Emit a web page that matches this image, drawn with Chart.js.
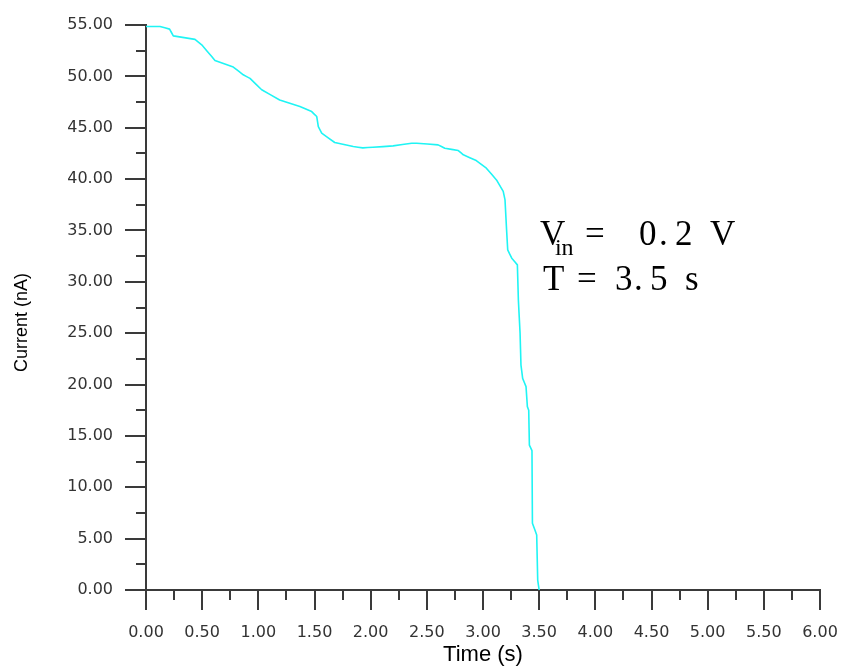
<!DOCTYPE html>
<html>
<head>
<meta charset="utf-8">
<title>Current vs Time</title>
<script src="https://cdn.jsdelivr.net/npm/chart.js@4.4.0/dist/chart.umd.min.js"></script>
<style>
    html, body { margin: 0; padding: 0; background: #fff; }
    #chart { display: block; }
</style>
</head>
<body>
<canvas id="chart" width="846" height="668"></canvas>
<script>
// time (s) and current (nA)
var timeS = [0, 0.125, 0.21, 0.243, 0.436, 0.496, 0.585, 0.614, 0.777, 0.866,
    0.926, 1.03, 1.19, 1.37, 1.475, 1.52, 1.534, 1.564, 1.68, 1.845,
    1.93, 2.02, 2.2, 2.365, 2.41, 2.6, 2.66, 2.78, 2.825, 2.94,
    3.03, 3.12, 3.18, 3.196, 3.21, 3.22, 3.256, 3.306, 3.315, 3.33,
    3.338, 3.353, 3.383, 3.395, 3.407, 3.413, 3.436, 3.44, 3.478, 3.487, 3.5];
var currentNA = [54.85, 54.85, 54.6, 53.94, 53.6, 53.07, 51.93, 51.55, 50.9, 50.15,
    49.8, 48.7, 47.7, 47.06, 46.57, 46.09, 45.1, 44.47, 43.56, 43.17,
    43.04, 43.1, 43.23, 43.49, 43.49, 43.33, 43.0, 42.78, 42.36, 41.8,
    41.06, 39.92, 38.8, 37.97, 35.05, 33.1, 32.3, 31.65, 28.2, 25.0,
    21.9, 20.6, 19.8, 17.85, 17.5, 14.1, 13.56, 6.5, 5.36, 0.97, 0];

var xRange = [0, 6];
var xMajorStep = 0.5;
var xMinorStep = 0.25;
var yRange = [0, 55];
var yMajorStep = 5;
var yMinorStep = 2.5;

var xTitle = "Time (s)";
var yTitle = "Current (nA)";
var noteLine1 = ["V", "in", "=", "0", ".", "2", "V"];
var noteLine2 = ["T", "=", "3", ".", "5", "s"];

var axisColor = "#3a3a3a";
var lineColor = "#1ff4f4";

function points(){
    var out = [];
    for (var i = 0; i < timeS.length; i++){
        out.push({x: timeS[i], y: currentNA[i]});
    }
    return out;
}

function isMajor(v, step){
    return Math.abs(v / step - Math.round(v / step)) < 1e-6;
}

// major and minor tick marks outside the plot
var axisTicks = {
    id: "axisTicks",
    afterDraw: function(chart){
        var ctx = chart.ctx;
        var xs = chart.scales.x, ys = chart.scales.y;
        ctx.save();
        ctx.strokeStyle = axisColor;
        ctx.lineWidth = 2;
        ctx.beginPath();
        for (var v = xRange[0]; v <= xRange[1] + 1e-9; v += xMinorStep){
            var px = Math.round(xs.getPixelForValue(v));
            var len = isMajor(v, xMajorStep) ? 20 : 10;
            ctx.moveTo(px, xs.top);
            ctx.lineTo(px, xs.top + len);
        }
        for (var w = yRange[0]; w <= yRange[1] + 1e-9; w += yMinorStep){
            var py = Math.round(ys.getPixelForValue(w));
            var l2 = isMajor(w, yMajorStep) ? 21 : 10;
            ctx.moveTo(ys.right, py);
            ctx.lineTo(ys.right - l2, py);
        }
        ctx.stroke();
        ctx.restore();
    }
};

// "Vin= 0.2 V" / "T = 3.5 s" note
var note = {
    id: "note",
    afterDraw: function(chart){
        var ctx = chart.ctx;
        var xs = chart.scales.x, ys = chart.scales.y;
        var x0 = xs.getPixelForValue(3.507);
        var b1 = ys.getPixelForValue(33.6);
        var b2 = ys.getPixelForValue(29.2);
        var off1 = [0, 15, 45, 99, 119, 135, 170];
        var off2 = [3, 37, 75, 94, 110, 145];
        ctx.save();
        ctx.fillStyle = "#000";
        ctx.textBaseline = "alphabetic";
        ctx.textAlign = "left";
        for (var i = 0; i < noteLine1.length; i++){
            if (noteLine1[i] == "in"){
                ctx.font = "24px 'Liberation Serif'";
                ctx.fillText(noteLine1[i], x0 + off1[i], b1 + 10);
            }
            else{
                ctx.font = "35px 'Liberation Serif'";
                ctx.fillText(noteLine1[i], x0 + off1[i], b1);
            }
        }
        ctx.font = "35px 'Liberation Serif'";
        for (var j = 0; j < noteLine2.length; j++){
            ctx.fillText(noteLine2[j], x0 + off2[j], b2);
        }
        ctx.restore();
    }
};

var ctx = document.getElementById("chart").getContext("2d");
var myChart = new Chart(ctx, {
    type: "line",
    data: {
        datasets: [
            {
                label: "Current",
                data: points(),
                borderColor: lineColor,
                borderWidth: 1.6,
                borderJoinStyle: "round",
                pointRadius: 0,
                // tiny tension keeps chart.js off its fast path, which merges points sharing a pixel column
                tension: 0.0001,
                fill: false
            }
        ]
    },
    options: {
        responsive: false,
        animation: false,
        events: [],
        layout: {
            padding: {left: 0, top: 25, right: 26, bottom: 0}
        },
        plugins: {
            legend: {display: false},
            tooltip: {enabled: false}
        },
        scales: {
            x: {
                type: "linear",
                min: xRange[0],
                max: xRange[1],
                afterFit: function(scale){ scale.height = 78; },
                border: {display: true, color: axisColor, width: 2},
                // invisible ticks only push the labels away; real ticks come from axisTicks
                grid: {drawOnChartArea: false, drawTicks: true, tickLength: 31, tickColor: "rgba(0,0,0,0)"},
                ticks: {
                    stepSize: xMajorStep,
                    padding: 2,
                    color: "#333",
                    font: {family: "'DejaVu Sans'", size: 16},
                    maxRotation: 0,
                    autoSkip: false,
                    callback: function(v){ return Number(v).toFixed(2); }
                },
                title: {
                    display: true,
                    text: xTitle,
                    color: "#000",
                    padding: {top: 0, bottom: 0},
                    font: {family: "'Liberation Sans'", size: 22}
                }
            },
            y: {
                type: "linear",
                min: yRange[0],
                max: yRange[1],
                afterFit: function(scale){ scale.width = 146; },
                border: {display: true, color: axisColor, width: 2},
                grid: {drawOnChartArea: false, drawTicks: true, tickLength: 31, tickColor: "rgba(0,0,0,0)"},
                ticks: {
                    stepSize: yMajorStep,
                    padding: 2,
                    color: "#333",
                    font: {family: "'DejaVu Sans'", size: 16},
                    autoSkip: false,
                    callback: function(v){ return Number(v).toFixed(2); }
                },
                title: {
                    display: true,
                    text: yTitle + "      ",
                    color: "#000",
                    padding: {top: 11, bottom: 0},
                    font: {family: "'Liberation Sans'", size: 18}
                }
            }
        }
    },
    plugins: [axisTicks, note]
});
</script>
</body>
</html>
